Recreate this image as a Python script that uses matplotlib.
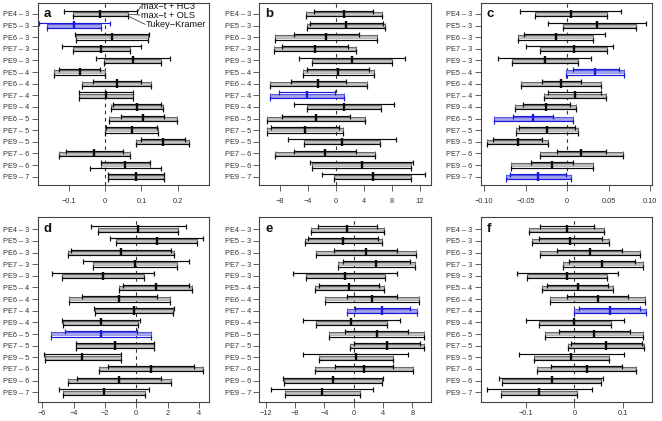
import matplotlib
matplotlib.use("Agg")
import matplotlib.pyplot as plt
import matplotlib.transforms as mtransforms
import numpy as np

plt.rcParams['font.family'] = ['Liberation Sans', 'DejaVu Sans']

rows = ["PE4 – 3", "PE5 – 3", "PE6 – 3", "PE7 – 3", "PE9 – 3", "PE5 – 4", "PE6 – 4",
        "PE7 – 4", "PE9 – 4", "PE6 – 5", "PE7 – 5", "PE9 – 5", "PE7 – 6", "PE9 – 6", "PE9 – 7"]
legend_labels = ["max−t + HC3", "max−t + OLS", "Tukey−Kramer"]

# ---- panel a ----
est_a = [-0.014, -0.086, 0.019, -0.011, 0.076, -0.071, 0.032, 0.002, 0.088, 0.104, 0.073, 0.159, -0.030, 0.055, 0.085]
hc3_lo_a = [-0.114, -0.182, -0.084, -0.120, -0.027, -0.129, -0.035, -0.074, 0.021, 0.044, 0.003, 0.100, -0.108, -0.013, 0.008]
hc3_hi_a = [0.087, 0.012, 0.121, 0.099, 0.178, -0.014, 0.099, 0.077, 0.155, 0.163, 0.142, 0.219, 0.048, 0.124, 0.162]
ols_lo_a = [-0.089, -0.160, -0.081, -0.090, -0.003, -0.141, -0.063, -0.072, 0.015, 0.009, 0.000, 0.085, -0.128, -0.013, 0.008]
ols_hi_a = [0.062, -0.011, 0.119, 0.068, 0.154, -0.001, 0.127, 0.076, 0.160, 0.199, 0.146, 0.232, 0.068, 0.124, 0.162]
tk_lo_a = [-0.089, -0.160, -0.081, -0.090, -0.003, -0.141, -0.063, -0.072, 0.015, 0.009, 0.000, 0.085, -0.128, -0.042, 0.008]
tk_hi_a = [0.062, -0.011, 0.119, 0.068, 0.154, -0.001, 0.127, 0.076, 0.160, 0.199, 0.146, 0.232, 0.068, 0.153, 0.162]
sig_a = [1]

# ---- panel b ----
est_b = [1.19, 1.48, -1.38, -2.90, 2.38, 0.38, -2.52, -4.10, 1.19, -2.81, -4.43, 0.90, -1.57, 3.71, 5.33]
hc3_lo_b = [-3.10, -3.67, -6.00, -7.67, -5.19, -4.14, -6.43, -8.05, -5.90, -7.71, -9.29, -6.76, -5.90, -3.62, -2.00]
hc3_hi_b = [5.40, 6.76, 3.33, 1.76, 9.90, 4.81, 1.43, -0.14, 8.33, 2.05, 0.48, 8.57, 2.86, 11.00, 12.70]
ols_lo_b = [-4.24, -4.10, -8.67, -8.76, -3.38, -4.71, -9.38, -9.33, -4.05, -9.86, -9.86, -4.57, -8.67, -3.43, -0.24]
ols_hi_b = [6.62, 7.10, 5.95, 2.86, 8.10, 5.43, 4.48, 1.14, 6.52, 4.24, 1.00, 6.38, 5.62, 10.80, 10.80]
tk_lo_b = ols_lo_b
tk_hi_b = ols_hi_b
sig_b = [7]

# ---- panel c ----
est_c = [0.004, 0.036, -0.014, 0.008, -0.027, 0.034, -0.008, 0.009, -0.026, -0.041, -0.025, -0.060, 0.017, -0.018, -0.035]
hc3_lo_c = [-0.057, -0.023, -0.052, -0.050, -0.084, 0.007, -0.030, -0.023, -0.054, -0.066, -0.058, -0.090, -0.012, -0.044, -0.069]
hc3_hi_c = [0.065, 0.095, 0.046, 0.055, 0.029, 0.062, 0.016, 0.041, 0.003, -0.017, 0.009, -0.030, 0.047, 0.007, -0.001]
ols_lo_c = [-0.039, -0.005, -0.059, -0.033, -0.067, -0.001, -0.056, -0.028, -0.063, -0.089, -0.062, -0.097, -0.033, -0.068, -0.074]
ols_hi_c = [0.048, 0.083, 0.031, 0.048, 0.013, 0.069, 0.041, 0.047, 0.010, 0.007, 0.013, -0.023, 0.067, 0.031, 0.004]
tk_lo_c = ols_lo_c
tk_hi_c = ols_hi_c
sig_c = [5, 9, 14]

# ---- panel d ----
est_d = [0.12, 1.30, -0.98, -0.06, -2.15, 1.25, -1.08, -0.15, -2.26, -2.27, -1.37, -3.43, 0.94, -1.12, -2.04]
hc3_lo_d = [-2.91, -1.68, -4.15, -3.38, -5.40, -0.83, -3.47, -2.70, -4.72, -4.55, -3.85, -5.89, -1.83, -3.81, -4.91]
hc3_hi_d = [3.15, 4.28, 2.19, 3.34, 1.13, 3.34, 1.34, 2.40, 0.26, 0.02, 1.11, -0.98, 3.71, 1.57, 0.83]
ols_lo_d = [-2.43, -1.26, -4.34, -2.74, -4.77, -1.10, -4.30, -2.64, -4.66, -5.47, -3.83, -5.85, -2.38, -4.38, -4.66]
ols_hi_d = [2.68, 3.89, 2.40, 2.62, 0.51, 3.57, 2.13, 2.34, 0.11, 0.94, 1.11, -0.98, 4.28, 2.19, 0.55]
tk_lo_d = ols_lo_d
tk_hi_d = ols_hi_d
sig_d = [9]

# ---- panel e ----
est_e = [-0.86, -1.45, 1.68, 3.09, -1.14, -0.64, 2.50, 3.91, -0.32, 3.14, 4.50, 0.32, 1.41, -2.86, -4.32]
hc3_lo_e = [-4.91, -6.27, -2.64, -1.41, -8.23, -4.68, -0.95, 0.23, -6.95, -1.18, 0.09, -6.86, -2.59, -9.59, -11.27]
hc3_hi_e = [3.23, 3.36, 5.95, 7.64, 5.95, 3.41, 5.95, 7.64, 6.36, 7.36, 9.00, 7.45, 5.36, 3.95, 2.68]
ols_lo_e = [-5.86, -6.68, -5.14, -2.09, -6.50, -5.32, -3.95, -0.95, -5.14, -3.36, -0.55, -4.73, -5.32, -9.50, -9.41]
ols_hi_e = [4.18, 3.82, 8.50, 8.40, 4.23, 4.09, 8.90, 8.68, 4.50, 9.64, 9.59, 5.32, 8.14, 3.82, 0.91]
tk_lo_e = ols_lo_e
tk_hi_e = ols_hi_e
sig_e = [7]

# ---- panel f ----
est_f = [-0.0151, -0.0082, 0.0322, 0.0575, -0.0151, 0.0070, 0.0473, 0.0726, 0.0000, 0.0400, 0.0651, -0.0070, 0.0253, -0.0466, -0.0726]
hc3_lo_f = [-0.0705, -0.0733, -0.0349, -0.0103, -0.1170, -0.0555, -0.0158, 0.0096, -0.1000, -0.0315, -0.0068, -0.1137, -0.0486, -0.1541, -0.1801]
hc3_hi_f = [0.0397, 0.0575, 0.0986, 0.1247, 0.0884, 0.0685, 0.1096, 0.1349, 0.1007, 0.1130, 0.1377, 0.1007, 0.0986, 0.0596, 0.0363]
ols_lo_f = [-0.0925, -0.0877, -0.0712, -0.0226, -0.0966, -0.0664, -0.0507, -0.0014, -0.0733, -0.0603, -0.0123, -0.0836, -0.0767, -0.1486, -0.1514]
ols_hi_f = [0.0616, 0.0712, 0.1350, 0.1397, 0.0664, 0.0788, 0.1452, 0.1466, 0.0747, 0.1404, 0.1425, 0.0699, 0.1267, 0.0555, 0.0062]
tk_lo_f = ols_lo_f
tk_hi_f = ols_hi_f
sig_f = [7]

panels = [
    dict(letter="a", est=est_a, h_lo=hc3_lo_a, h_hi=hc3_hi_a, o_lo=ols_lo_a, o_hi=ols_hi_a, t_lo=tk_lo_a, t_hi=tk_hi_a, sig=sig_a,
         xlim=(-0.1867, 0.287), ticks=[-0.1, 0, 0.1, 0.2], ticklabels=["−0.1", "0", "0.1", "0.2"]),
    dict(letter="b", est=est_b, h_lo=hc3_lo_b, h_hi=hc3_hi_b, o_lo=ols_lo_b, o_hi=ols_hi_b, t_lo=tk_lo_b, t_hi=tk_hi_b, sig=sig_b,
         xlim=(-10.9, 13.58), ticks=[-8, -4, 0, 4, 8, 12], ticklabels=["−8", "−4", "0", "4", "8", "12"]),
    dict(letter="c", est=est_c, h_lo=hc3_lo_c, h_hi=hc3_hi_c, o_lo=ols_lo_c, o_hi=ols_hi_c, t_lo=tk_lo_c, t_hi=tk_hi_c, sig=sig_c,
         xlim=(-0.1045, 0.1025), ticks=[-0.10, -0.05, 0, 0.05, 0.10], ticklabels=["−0.10", "−0.05", "0", "0.05", "0.10"]),
    dict(letter="d", est=est_d, h_lo=hc3_lo_d, h_hi=hc3_hi_d, o_lo=ols_lo_d, o_hi=ols_hi_d, t_lo=tk_lo_d, t_hi=tk_hi_d, sig=sig_d,
         xlim=(-6.29, 4.66), ticks=[-6, -4, -2, 0, 2, 4], ticklabels=["−6", "−4", "−2", "0", "2", "4"]),
    dict(letter="e", est=est_e, h_lo=hc3_lo_e, h_hi=hc3_hi_e, o_lo=ols_lo_e, o_hi=ols_hi_e, t_lo=tk_lo_e, t_hi=tk_hi_e, sig=sig_e,
         xlim=(-12.87, 10.5), ticks=[-12, -8, -4, 0, 4, 8], ticklabels=["−12", "−8", "−4", "0", "4", "8"]),
    dict(letter="f", est=est_f, h_lo=hc3_lo_f, h_hi=hc3_hi_f, o_lo=ols_lo_f, o_hi=ols_hi_f, t_lo=tk_lo_f, t_hi=tk_hi_f, sig=sig_f,
         xlim=(-0.1925, 0.1596), ticks=[-0.1, 0, 0.1], ticklabels=["−0.1", "0", "0.1"]),
]

W, H = 662.0, 421.0
lefts = [37.7, 259.3, 480.7]
width = 171.5
row_boxes = [(3.3, 185.0), (217.3, 401.7)]
ylims = [(0.29, 15.92), (0.19, 16.03)]
xpads = [4.6, 1.8]

fig = plt.figure(figsize=(W / 100, H / 100), dpi=100)

BLACK = "#0a0a0a"
BLUE = "#1a1ad6"
GRAY_FILL = "#c6c6c6"
GRAY_EDGE = "#6a6a6a"
BLUE_FILL = "#a8a8ee"
BLUE_EDGE = "#5a5ae0"

for k, p in enumerate(panels):
    r, c = divmod(k, 3)
    top, bot = row_boxes[r]
    ax = fig.add_axes([lefts[c] / W, 1 - bot / H, width / W, (bot - top) / H])
    n = len(rows)
    ys = np.arange(n, 0, -1)
    ax.axvline(0, color="#333333", lw=0.8, ls=(0, (3.2, 3.2)), zorder=0)
    for i in range(n):
        blue = i in p["sig"]
        col = BLUE if blue else BLACK
        fill = BLUE_FILL if blue else GRAY_FILL
        edge = BLUE_EDGE if blue else GRAY_EDGE
        yt, ym, yb = ys[i] + 0.25, ys[i] - 0.02, ys[i] - 0.21
        # OLS (gray thick bar)
        ax.plot([p["o_lo"][i], p["o_hi"][i]], [ym, ym], color=edge, lw=2.9, solid_capstyle="butt", zorder=2)
        ax.plot([p["o_lo"][i], p["o_hi"][i]], [ym, ym], color=fill, lw=1.9, solid_capstyle="butt", zorder=2.1)
        ax.plot([p["o_lo"][i], p["o_hi"][i]], [ym, ym], ls="none", marker="|", ms=4.2, mew=0.8, color=edge, zorder=2.2)
        # HC3 (top)
        ax.plot([p["h_lo"][i], p["h_hi"][i]], [yt, yt], color=col, lw=0.85, zorder=3)
        ax.plot([p["h_lo"][i], p["h_hi"][i]], [yt, yt], ls="none", marker="|", ms=3.6, mew=0.85, color=col, zorder=3)
        # Tukey-Kramer (bottom)
        ax.plot([p["t_lo"][i], p["t_hi"][i]], [yb, yb], color=col, lw=0.85, zorder=3)
        ax.plot([p["t_lo"][i], p["t_hi"][i]], [yb, yb], ls="none", marker="|", ms=3.6, mew=0.85, color=col, zorder=3)
        # estimate
        ax.plot([p["est"][i], p["est"][i]], [yb - 0.12, yt + 0.12], color=col, lw=1.7, solid_capstyle="butt", zorder=4)

    ax.set_xlim(*p["xlim"])
    ax.set_ylim(*ylims[r])
    ax.set_yticks(ys)
    ax.set_yticklabels(rows, fontsize=5.3, color="#333333")
    ax.set_xticks(p["ticks"])
    ax.set_xticklabels(p["ticklabels"], fontsize=5.3, color="#333333")
    ax.tick_params(axis="y", length=4.5, width=0.6, pad=1.5, color="#444444")
    ax.tick_params(axis="x", length=4.5, width=0.6, pad=xpads[r], color="#444444")
    for s in ax.spines.values():
        s.set_color("#444444")
        s.set_linewidth(0.8)
    trans = mtransforms.blended_transform_factory(ax.transAxes, ax.transData)
    ax.text(0.035, ys[0], p["letter"], transform=trans, fontsize=9.5, fontweight="bold",
            va="center", ha="left", color="#111111")

    if p["letter"] == "a":
        i = 0
        yt, ym, yb = ys[i] + 0.25, ys[i] - 0.02, ys[i] - 0.21
        txt_pos = [(0.100, ys[0] + 0.66), (0.098, ys[0] - 0.09), (0.112, ys[0] - 0.89)]
        starts = [(p["h_hi"][i], yt), (p["o_hi"][i], ym), (p["t_hi"][i], yb)]
        for (tx, ty), (sx, sy), lab in zip(txt_pos, starts, legend_labels):
            ax.plot([sx + 0.003, tx - 0.002], [sy, ty], color="#222222", lw=0.5, zorder=3)
            ax.text(tx, ty, lab, fontsize=6.6, va="center", ha="left", color="#111111")

fig.savefig("out.png", dpi=100)
